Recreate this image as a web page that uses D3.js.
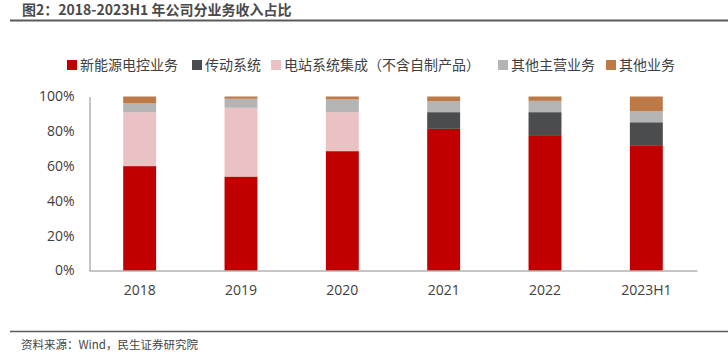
<!DOCTYPE html>
<html>
<head>
<meta charset="utf-8">
<script src="https://cdn.jsdelivr.net/npm/d3@7"></script>
<style>
  body { margin: 0; background: #fff; }
  svg { display: block; font-family: "Noto Sans CJK SC", "Noto Sans", sans-serif; }
</style>
</head>
<body>
<div id="chart"></div>
<script>
// data (share of revenue, %)
var years = ["2018", "2019", "2020", "2021", "2022", "2023H1"];
var seriesNames = ["新能源电控业务", "传动系统", "电站系统集成（不含自制产品）", "其他主营业务", "其他业务"];
var newEnergy   = [60, 54, 68.6, 81.4, 77.8, 72];
var drive       = [0, 0, 0, 9.6, 13.2, 13.2];
var station     = [31, 39.5, 22.4, 0, 0, 0];
var otherMain   = [5, 5.2, 7.3, 6.3, 6.5, 6.4];
var otherBiz    = [4, 1.3, 1.7, 2.7, 2.5, 8.4];
var yTicks = [0, 20, 40, 60, 80, 100];

var colors = ["#C00000", "#4B4C4E", "#EBC2C3", "#B4B4B4", "#BE7A46"];

var W = 728, H = 362;
var svg = d3.select("#chart").append("svg")
    .attr("width", W)
    .attr("height", H);

// title + rules
svg.append("text")
    .attr("x", 22).attr("y", 15)
    .attr("font-size", 14).attr("font-weight", "bold")
    .attr("fill", "#4a4a4a")
    .text("图2：2018-2023H1 年公司分业务收入占比");
svg.append("line")
    .attr("x1", 10).attr("x2", 728).attr("y1", 20.5).attr("y2", 20.5)
    .attr("stroke", "#5a5a5a").attr("stroke-width", 2);
svg.append("line")
    .attr("x1", 10).attr("x2", 728).attr("y1", 331.5).attr("y2", 331.5)
    .attr("stroke", "#5a5a5a").attr("stroke-width", 1.5);
svg.append("text")
    .attr("x", 21).attr("y", 349)
    .attr("font-size", 11.5).attr("fill", "#444")
    .text("资料来源：Wind，民生证券研究院");

// scales
var x = d3.scaleBand()
    .domain(years)
    .range([89, 697])
    .paddingInner(0.675)
    .paddingOuter(0.3375);
var y = d3.scaleLinear()
    .domain([0, 100])
    .range([270.5, 96.5]);

// stacked data
var rows = years.map(function(yr, i) {
  return { year: yr, s0: newEnergy[i], s1: drive[i], s2: station[i], s3: otherMain[i], s4: otherBiz[i] };
});
var keys = ["s0", "s1", "s2", "s3", "s4"];
var stack = d3.stack().keys(keys)(rows);

svg.selectAll("g.layer")
  .data(stack)
  .enter().append("g")
    .attr("class", "layer")
    .attr("fill", function(d, i) { return colors[i]; })
  .selectAll("rect")
  .data(function(d) { return d; })
  .enter().append("rect")
    .attr("x", function(d) { return x(d.data.year); })
    .attr("width", x.bandwidth())
    .attr("y", function(d) { return y(d[1]); })
    .attr("height", function(d) { return Math.max(0, y(d[0]) - y(d[1])); });

// axes
var yAxis = d3.axisLeft(y)
    .tickValues(yTicks)
    .tickSize(0)
    .tickPadding(15)
    .tickFormat(function(d) { return d + "%"; });
var yg = svg.append("g")
    .attr("transform", "translate(89.5,0)")
    .call(yAxis);
yg.select(".domain").attr("stroke", "#8c8c8c");
yg.selectAll("text").attr("font-size", 14).attr("fill", "#404040")
    .attr("font-family", "'Open Sans', 'Noto Sans', sans-serif");

var xAxis = d3.axisBottom(x).tickSize(0).tickPadding(15);
var xg = svg.append("g")
    .attr("transform", "translate(0,270.5)")
    .call(xAxis);
xg.select(".domain").attr("stroke", "#8c8c8c");
xg.selectAll("text").attr("font-size", 14).attr("fill", "#404040")
    .attr("font-family", "'Open Sans', 'Noto Sans', sans-serif");

// legend
var legendX = [67, 192, 271, 498, 606];
var lg = svg.selectAll("g.legend")
  .data(seriesNames)
  .enter().append("g")
    .attr("class", "legend")
    .attr("transform", function(d, i) { return "translate(" + legendX[i] + ",65)"; });
lg.append("rect")
    .attr("x", 0).attr("y", -5)
    .attr("width", 10).attr("height", 10)
    .attr("fill", function(d, i) { return colors[i]; });
lg.append("text")
    .attr("x", 13).attr("y", 5)
    .attr("font-size", 14).attr("fill", "#404040")
    .text(function(d) { return d; });
</script>
</body>
</html>
